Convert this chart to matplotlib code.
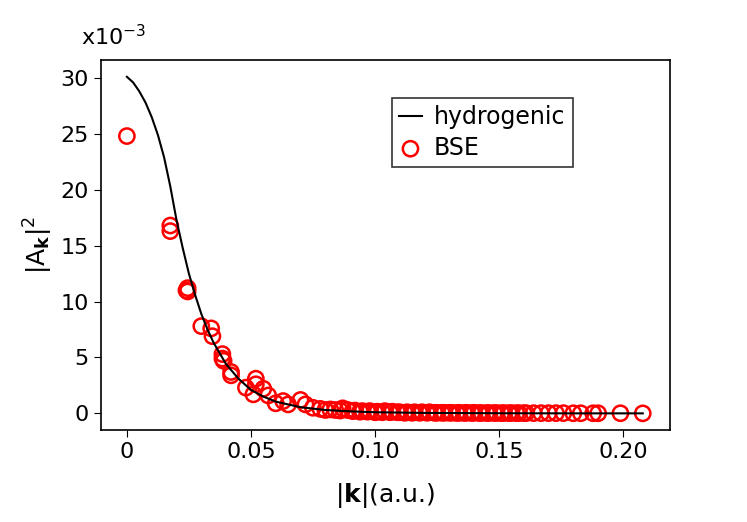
import matplotlib.pyplot as plt

# hydrogenic curve (values in units of 1e-3)
k_line = [0, 0.0025, 0.005, 0.0075, 0.01, 0.0125, 0.015, 0.0175, 0.02, 0.0225,
          0.025, 0.0275, 0.03, 0.0325, 0.035, 0.04, 0.045, 0.05, 0.055, 0.06, 0.07,
          0.08, 0.09, 0.10, 0.12, 0.15, 0.18, 0.208]
a_line = [30.1, 29.6, 28.8, 27.8, 26.5, 24.9, 22.9, 20.3, 17.3, 14.8,
          12.5, 10.6, 8.9, 7.5, 6.3, 4.4, 3.1, 2.1, 1.5, 1.05, 0.55,
          0.3, 0.18, 0.1, 0.04, 0.01, 0.0, 0.0]

# BSE points
k_bse = [0, 0.0175, 0.0175, 0.024, 0.0245, 0.0245, 0.030, 0.034, 0.0345,
         0.0385, 0.0385, 0.039, 0.042, 0.042, 0.048, 0.052, 0.052, 0.051,
         0.055, 0.057, 0.060, 0.063, 0.065, 0.070, 0.072, 0.075, 0.078,
         0.080, 0.082, 0.084, 0.086, 0.087, 0.089, 0.091, 0.092, 0.094,
         0.095, 0.097, 0.098, 0.100, 0.101, 0.103, 0.104, 0.106, 0.107,
         0.109, 0.110, 0.112, 0.113, 0.115, 0.116, 0.118, 0.119, 0.121,
         0.122, 0.124, 0.125, 0.127, 0.128, 0.130, 0.131, 0.133, 0.134,
         0.136, 0.137, 0.139, 0.140, 0.142, 0.143, 0.145, 0.146, 0.148,
         0.149, 0.151, 0.152, 0.154, 0.155, 0.157, 0.158, 0.160, 0.161,
         0.164, 0.167, 0.170, 0.173, 0.176, 0.180, 0.183, 0.188,
         0.190, 0.199, 0.208]
a_bse = [24.8, 16.8, 16.3, 11.0, 11.2, 10.9, 7.8, 7.6, 6.9,
         5.3, 4.9, 4.7, 3.7, 3.4, 2.3, 3.1, 2.6, 1.7,
         2.2, 1.6, 0.9, 1.1, 0.8, 1.2, 0.8, 0.5, 0.4,
         0.3, 0.35, 0.3, 0.25, 0.45, 0.3, 0.2, 0.25, 0.15,
         0.2, 0.15, 0.2, 0.1, 0.15, 0.1, 0.2, 0.1, 0.15,
         0.1, 0.1, 0.05, 0.1, 0.05, 0.1, 0.05, 0.1, 0.05,
         0.1, 0.05, 0.05, 0.05, 0.05, 0.05, 0.05, 0.03, 0.05,
         0.03, 0.05, 0.03, 0.05, 0.03, 0.03, 0.03, 0.03, 0.03,
         0.03, 0.02, 0.03, 0.02, 0.03, 0.02, 0.02, 0.02, 0.02,
         0.02, 0.02, 0.02, 0.02, 0.02, 0.01, 0.01, 0.01,
         0.01, 0.01, 0.0]

plt.rcParams['font.family'] = 'DejaVu Sans'
plt.rcParams['mathtext.fontset'] = 'dejavusans'
fig = plt.figure(figsize=(7.47, 5.22), dpi=100)
ax = fig.add_axes([0.135, 0.176, 0.762, 0.709])

ax.plot(k_line, a_line, color='black', lw=1.5, label='hydrogenic')
ax.scatter(k_bse, a_bse, s=120, facecolors='none', edgecolors='red', linewidths=1.8, label='BSE')

ax.set_xlim(-0.0105, 0.219)
ax.set_ylim(-1.5, 31.6)
ax.set_xticks([0, 0.05, 0.10, 0.15, 0.20])
ax.set_xticklabels(['0', '0.05', '0.10', '0.15', '0.20'])
ax.set_yticks([0, 5, 10, 15, 20, 25, 30])
ax.tick_params(labelsize=16, length=5)
for s in ax.spines.values():
    s.set_linewidth(1.2)

ax.set_xlabel(r'$|\mathbf{k}|$(a.u.)', fontsize=18, labelpad=14)
ax.set_ylabel(r'$|\mathrm{A}_{\mathbf{k}}|^2$', fontsize=18)
ax.text(-0.035, 1.03, r'x10$^{-3}$', transform=ax.transAxes, fontsize=16, ha='left', va='bottom')

leg = ax.legend(loc='upper left', bbox_to_anchor=(0.49, 0.93), fontsize=17, frameon=True,
                fancybox=False, edgecolor='black', handlelength=1.0, handletextpad=0.5,
                borderpad=0.3, labelspacing=0.3)
leg.get_frame().set_linewidth(1.2)

plt.savefig('out.png', dpi=100)
